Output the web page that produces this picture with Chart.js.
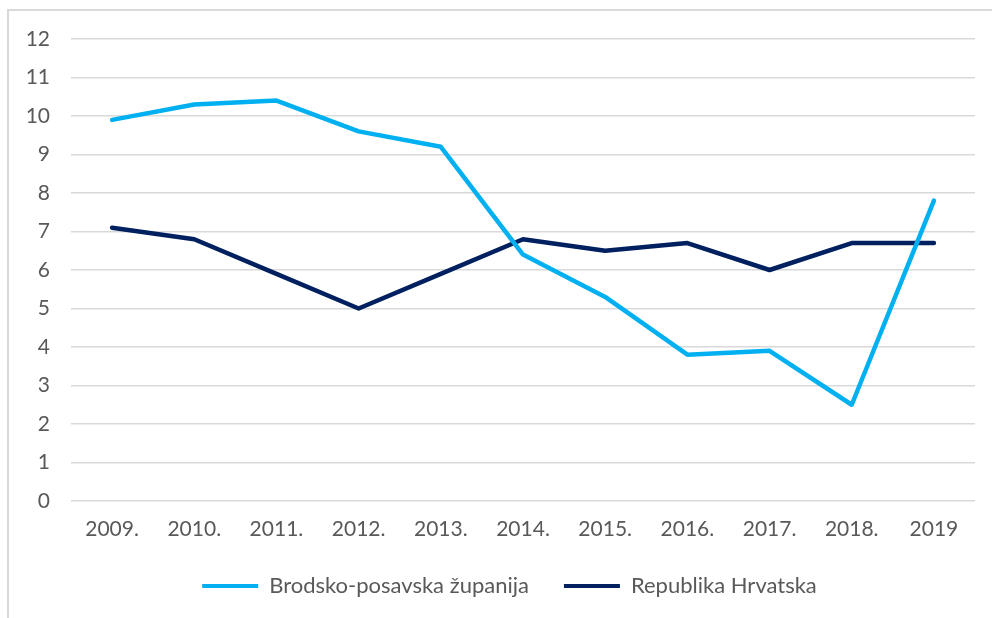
<!DOCTYPE html>
<html>
<head>
<meta charset="utf-8">
<script src="https://cdn.jsdelivr.net/npm/chart.js@4/dist/chart.umd.min.js"></script>
<style>
  html, body { margin: 0; padding: 0; background: #fff; overflow: hidden; }
  #wrap { position: absolute; left: 0; top: 0; width: 992px; height: 618px; }
  #frame { position: absolute; left: 7px; top: 9px; width: 1100px; height: 800px; border: 2px solid #d9d9d9; box-sizing: border-box; }
  canvas { position: absolute; left: 0; top: 0; }
</style>
</head>
<body>
<div id="wrap">
  <div id="frame"></div>
  <canvas id="c" width="992" height="618"></canvas>
</div>
<script>
const categories = ["2009.", "2010.", "2011.", "2012.", "2013.", "2014.", "2015.", "2016.", "2017.", "2018.", "2019"];
const brodskoValues = [9.9, 10.3, 10.4, 9.6, 9.2, 6.4, 5.3, 3.8, 3.9, 2.5, 7.8];
const hrvatskaValues = [7.1, 6.8, 5.9, 5.0, 5.9, 6.8, 6.5, 6.7, 6.0, 6.7, 6.7];
const seriesNames = ["Brodsko-posavska županija", "Republika Hrvatska"];
const yTicks = [0, 1, 2, 3, 4, 5, 6, 7, 8, 9, 10, 11, 12];

const FONT = "Lato, 'Open Sans', sans-serif";
const TXT = "#595959";

const legendShift = {
  id: "legendShift",
  afterLayout(chart) { if (chart.legend) { chart.legend.left = 44; } }
};

new Chart(document.getElementById("c"), {
  type: "line",
  data: {
    labels: categories,
    datasets: [
      { label: seriesNames[0], data: brodskoValues, borderColor: "#00B0F0", backgroundColor: "#00B0F0",
        borderWidth: 4.5, pointRadius: 0, tension: 0, borderCapStyle: "round", borderJoinStyle: "round" },
      { label: seriesNames[1], data: hrvatskaValues, borderColor: "#002060", backgroundColor: "#002060",
        borderWidth: 4.5, pointRadius: 0, tension: 0, borderCapStyle: "round", borderJoinStyle: "round" }
    ]
  },
  plugins: [legendShift],
  options: {
    responsive: false,
    animation: false,
    devicePixelRatio: 1,
    layout: { padding: { top: 39, right: 17, bottom: 11, left: 0 } },
    scales: {
      x: {
        offset: true,
        grid: { display: false, drawTicks: false },
        border: { display: false },
        ticks: { color: TXT, font: { family: FONT, size: 21 }, padding: 16, maxRotation: 0, autoSkip: false },
        afterFit: s => { s.height = 39; }
      },
      y: {
        min: 0, max: 12,
        afterBuildTicks: s => { s.ticks = yTicks.map(v => ({ value: v })); },
        grid: { color: "#d9d9d9", lineWidth: 1.5, drawTicks: false },
        border: { display: false },
        ticks: { color: TXT, font: { family: FONT, size: 21 }, padding: 21 },
        afterFit: s => { s.width = 71; }
      }
    },
    plugins: {
      tooltip: { enabled: false },
      legend: {
        position: "bottom",
        labels: {
          color: TXT,
          font: { family: FONT, size: 22 },
          boxWidth: 56,
          boxHeight: 4,
          padding: 35,
          generateLabels: chart => chart.data.datasets.map((d, i) => ({
            text: d.label, fillStyle: d.borderColor, strokeStyle: d.borderColor, lineWidth: 0,
            fontColor: TXT, datasetIndex: i, hidden: false
          }))
        }
      }
    }
  }
});
</script>
</body>
</html>
